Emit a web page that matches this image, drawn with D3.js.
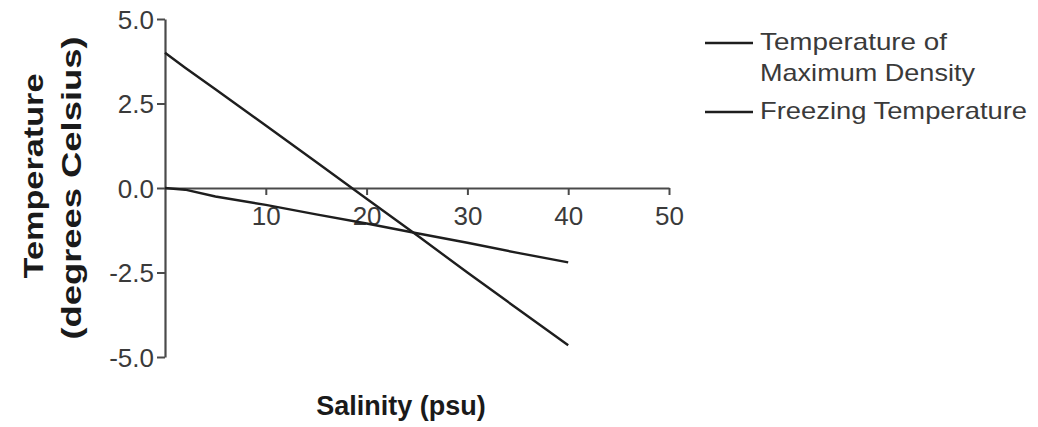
<!DOCTYPE html>
<html><head><meta charset="utf-8">
<script src="https://cdn.jsdelivr.net/npm/d3@7"></script>
<style>body{margin:0;background:#fff}svg{display:block}</style>
</head><body>
<script>
const salinity = [0, 2, 5, 10, 15, 20, 25, 30, 35, 40];
const maxDensityTemp = [4.0, 3.56, 2.92, 1.85, 0.77, -0.32, -1.4, -2.5, -3.58, -4.65];
const freezingTemp = [0, -0.05, -0.25, -0.5, -0.78, -1.05, -1.34, -1.62, -1.92, -2.2];
const seriesNames = [["Temperature of", "Maximum Density"], ["Freezing Temperature"]];
const xTicks = [10, 20, 30, 40, 50];
const yTicks = [5.0, 2.5, 0.0, -2.5, -5.0];

const W = 1038, H = 427;
const svg = d3.select("body").append("svg").attr("width", W).attr("height", H);
const font = "'Liberation Sans', Arial, sans-serif";
const ink = "#1e1e1e";
const axisInk = "#4a4a4a";
const textInk = "#3a3a3a";

const x = d3.scaleLinear().domain([0, 50]).range([165, 669]);
const y = d3.scaleLinear().domain([-5, 5]).range([357, 19]);

// y axis
const yAxis = svg.append("g").attr("transform", `translate(${x(0)},0)`)
  .call(d3.axisLeft(y).tickValues(yTicks).tickFormat(d => d.toFixed(1)).tickSize(8).tickPadding(3).tickSizeOuter(0));
yAxis.select(".domain").attr("stroke", axisInk).attr("stroke-width", 2.2);
yAxis.selectAll(".tick line").attr("stroke", axisInk).attr("stroke-width", 2);
yAxis.selectAll(".tick text").attr("font-family", font).attr("font-size", 26).attr("fill", textInk).attr("dy", "0.35em");

// x axis at y=0
const xAxis = svg.append("g").attr("transform", `translate(0,${y(0)})`)
  .call(d3.axisBottom(x).tickValues(xTicks).tickSize(7).tickPadding(10).tickSizeOuter(0));
xAxis.select(".domain").attr("stroke", axisInk).attr("stroke-width", 2.2);
xAxis.selectAll(".tick line").attr("stroke", axisInk).attr("stroke-width", 2);
xAxis.selectAll(".tick text").attr("font-family", font).attr("font-size", 26).attr("fill", textInk)
  .attr("dy", null).attr("y", 37);

// lines
const line = d3.line().x((d, i) => x(salinity[i])).y(d => y(d));
[maxDensityTemp, freezingTemp].forEach(s => {
  svg.append("path").datum(s).attr("d", line).attr("fill", "none")
    .attr("stroke", ink).attr("stroke-width", 2.4);
});

// axis labels
svg.append("text").attr("x", 401).attr("y", 415).attr("text-anchor", "middle")
  .attr("font-family", font).attr("font-weight", "bold").attr("font-size", 27).attr("fill", "#1a1a1a")
  .text("Salinity (psu)");
svg.append("text").attr("transform", "translate(43,176) rotate(-90)")
  .attr("text-anchor", "middle").attr("font-family", font).attr("font-weight", "bold")
  .attr("font-size", 28).attr("fill", "#1a1a1a")
  .attr("textLength", 205).attr("lengthAdjust", "spacingAndGlyphs")
  .text("Temperature");
svg.append("text").attr("transform", "translate(81,188) rotate(-90)")
  .attr("text-anchor", "middle").attr("font-family", font).attr("font-weight", "bold")
  .attr("font-size", 28).attr("fill", "#1a1a1a")
  .attr("textLength", 303).attr("lengthAdjust", "spacingAndGlyphs")
  .text("(degrees Celsius)");

// legend
const legY = [43, 112];
const legLen = [[187, 215], [267]];
seriesNames.forEach((n, i) => {
  svg.append("line").attr("x1", 705).attr("x2", 753).attr("y1", legY[i]).attr("y2", legY[i])
    .attr("stroke", ink).attr("stroke-width", 2.4);
  n.forEach((p, j) => {
    svg.append("text").attr("font-family", font).attr("font-size", 24).attr("fill", textInk)
      .attr("x", 760).attr("y", legY[i] + 7 + j * 31)
      .attr("textLength", legLen[i][j]).attr("lengthAdjust", "spacingAndGlyphs")
      .text(p);
  });
});
</script>
</body></html>
